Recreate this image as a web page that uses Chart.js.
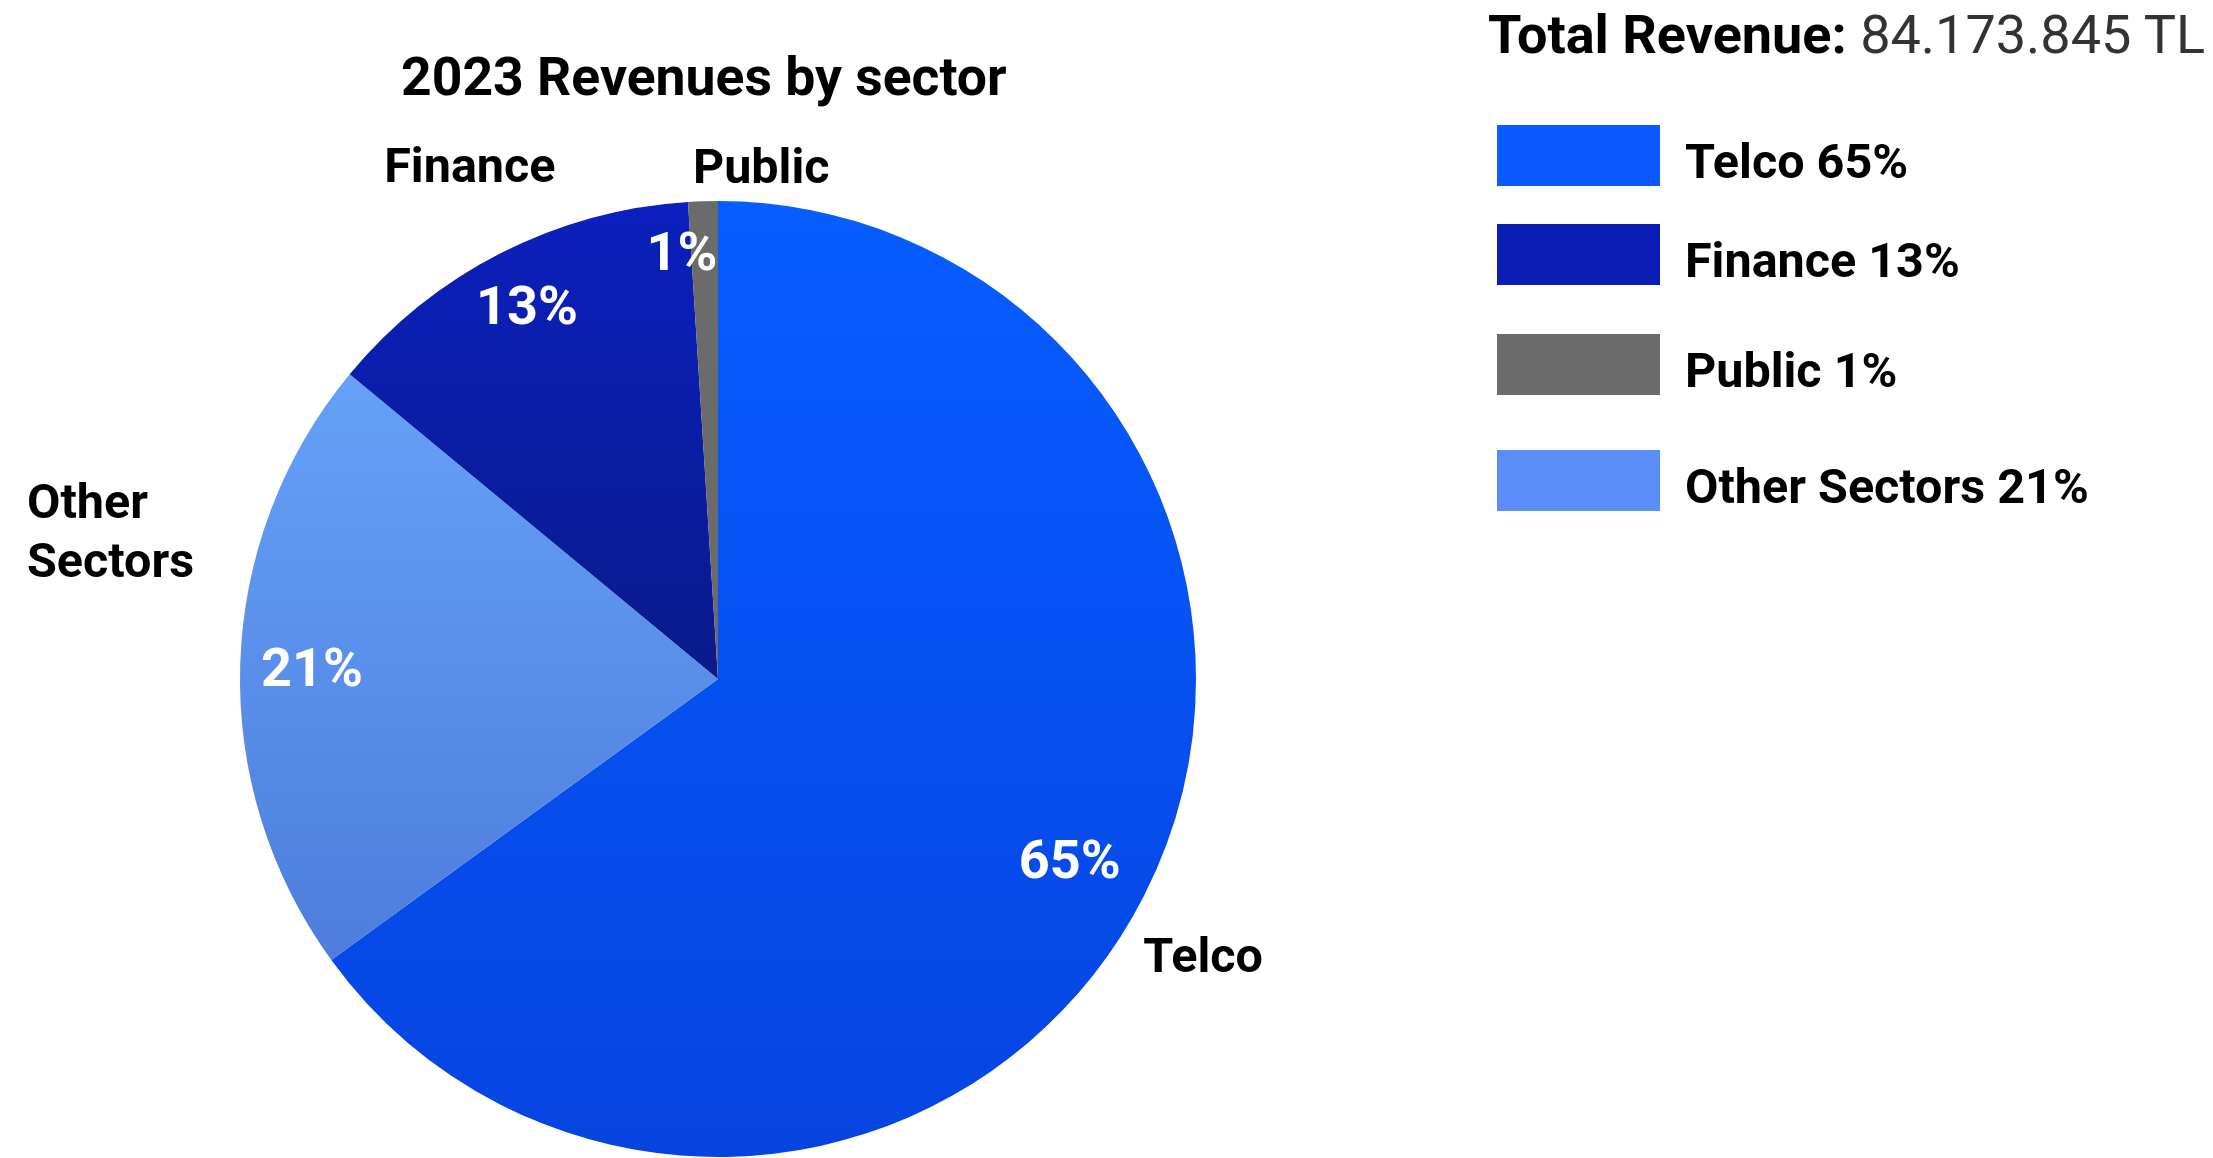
<!DOCTYPE html>
<html lang="en">
<head>
  <meta charset="UTF-8" />
  <title>2023 Revenues by sector</title>
  <script src="https://cdn.jsdelivr.net/npm/chart.js"></script>
  <style>
    html, body {
      margin: 0;
      padding: 0;
      background: #ffffff;
      font-family: Roboto, 'Noto Sans', sans-serif;
      overflow: hidden;
    }
    #wrap {
      position: relative;
      width: 2213px;
      height: 1158px;
    }
    #pie {
      position: absolute;
      left: 0;
      top: 0;
    }
    #title {
      position: absolute;
      left: 401px;
      width: 600px;
      top: 45px;
      text-align: center;
      font-weight: 700;
      font-size: 53.5px;
      line-height: 64px;
      white-space: nowrap;
    }
    #total {
      position: absolute;
      left: 1488px;
      top: 3px;
      font-size: 54px;
      line-height: 64px;
      white-space: nowrap;
    }
    #total b { color: #000; }
    #total span { color: #333333; }
    .legend-row {
      position: absolute;
      left: 1497px;
      height: 62px;
      display: flex;
      align-items: center;
    }
    .legend-box {
      width: 163px;
      height: 61px;
    }
    .legend-text {
      margin-left: 25px;
      padding-top: 12px;
      font-weight: 700;
      font-size: 48.5px;
      white-space: nowrap;
      color: #000;
    }
  </style>
</head>
<body>
<div id="wrap">
  <canvas id="pie" width="2213" height="1158"></canvas>
  <div id="title">2023 Revenues by sector</div>
  <div id="total"><b>Total Revenue:</b> <span id="totalValue"></span></div>
  <div id="legend"></div>
</div>

<script>
  // sector shares, in drawing order (clockwise from 12 o'clock)
  const sectors = ["Telco", "Other Sectors", "Finance", "Public"];
  const shares = [65, 21, 13, 1];
  const outerLabels = [["Telco"], ["Other", "Sectors"], ["Finance"], ["Public"]];
  const legendOrder = ["Telco", "Finance", "Public", "Other Sectors"];
  const totalRevenue = "84.173.845 TL";

  // top / bottom gradient colours of each slice, plus flat legend swatch
  const sliceTop = ["#075dff", "#6cacff", "#0b20be", "#6b6b6b"];
  const sliceBottom = ["#0644e1", "#4670d4", "#081458", "#6b6b6b"];
  const swatch = ["#0a5aff", "#5b8ef8", "#0c1db5", "#6b6b6b"];

  // radial factor + angle nudge (deg) for the labels of each slice
  const innerPos = [[0.826, 0], [0.85, 0], [0.88, 0], [0.9, -3]];
  const outerPos = [[1.166, 2.5, "center"], [1.479, 10.4, "left"], [1.197, 1.3, "center"], [1.08, 6.6, "center"]];

  document.getElementById("totalValue").textContent = totalRevenue;

  const legendTops = [124, 223, 333, 449];
  const legend = document.getElementById("legend");
  legendOrder.forEach((name, i) => {
    const idx = sectors.indexOf(name);
    const row = document.createElement("div");
    row.className = "legend-row";
    row.style.top = legendTops[i] + "px";
    row.innerHTML = `<div class="legend-box" style="background:${swatch[idx]}"></div>
      <div class="legend-text">${name} ${shares[idx]}%</div>`;
    legend.appendChild(row);
  });

  function sliceFill(context) {
    const chart = context.chart;
    const area = chart.chartArea;
    if (!area) return sliceTop[context.dataIndex];
    const g = chart.ctx.createLinearGradient(0, area.top, 0, area.bottom);
    g.addColorStop(0, sliceTop[context.dataIndex]);
    g.addColorStop(1, sliceBottom[context.dataIndex]);
    return g;
  }

  const sliceLabels = {
    id: "sliceLabels",
    afterDatasetsDraw(chart) {
      const ctx = chart.ctx;
      const arcs = chart.getDatasetMeta(0).data;
      const nudge = 6; // 'middle' baseline sits a little high for Roboto
      ctx.save();
      ctx.textBaseline = "middle";
      arcs.forEach((arc, i) => {
        const p = arc.getProps(["x", "y", "startAngle", "endAngle", "outerRadius"], true);
        const mid = (p.startAngle + p.endAngle) / 2;

        // percentage inside the slice
        let a = mid + innerPos[i][1] * Math.PI / 180;
        let r = p.outerRadius * innerPos[i][0];
        ctx.fillStyle = "#ffffff";
        ctx.font = "700 54px Roboto";
        ctx.textAlign = "center";
        ctx.fillText(shares[i] + "%", p.x + Math.cos(a) * r, p.y + Math.sin(a) * r + nudge);

        // sector name outside
        a = mid + outerPos[i][1] * Math.PI / 180;
        r = p.outerRadius * outerPos[i][0];
        const lx = p.x + Math.cos(a) * r;
        const ly = p.y + Math.sin(a) * r + nudge;
        const lines = outerLabels[i];
        const lh = 59;
        ctx.fillStyle = "#000000";
        ctx.font = "700 48.5px Roboto";
        ctx.textAlign = outerPos[i][2];
        lines.forEach((t, k) => {
          ctx.fillText(t, lx, ly + (k - (lines.length - 1) / 2) * lh);
        });
      });
      ctx.restore();
    }
  };

  new Chart(document.getElementById("pie"), {
    type: "pie",
    data: {
      labels: sectors,
      datasets: [{
        data: shares,
        backgroundColor: sliceFill,
        borderWidth: 0
      }]
    },
    options: {
      responsive: false,
      animation: false,
      layout: { padding: { left: 240, right: 1017, top: 201, bottom: 1 } },
      plugins: {
        legend: { display: false },
        tooltip: { enabled: false },
        title: { display: false }
      }
    },
    plugins: [sliceLabels]
  });
</script>
</body>
</html>
